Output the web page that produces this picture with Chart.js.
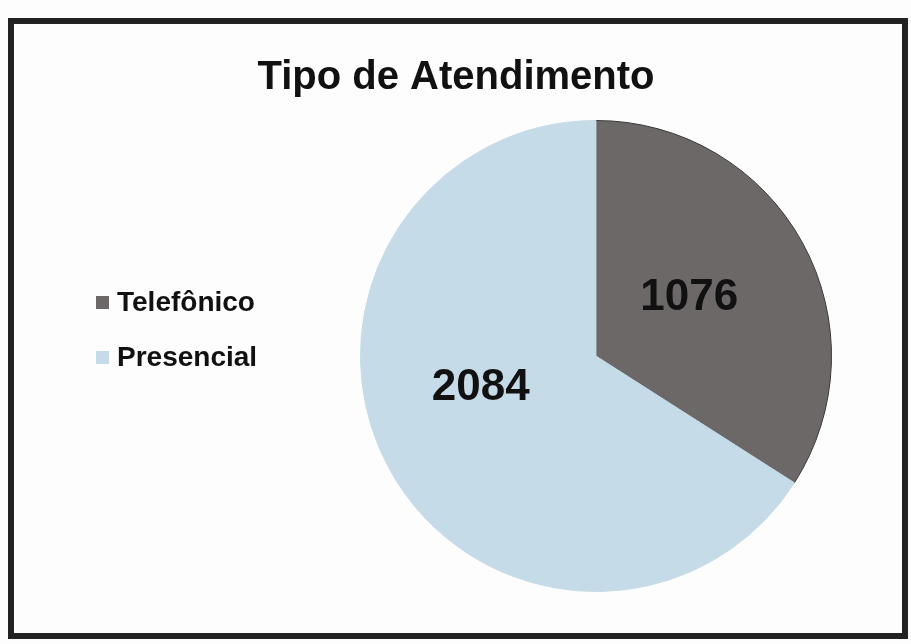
<!DOCTYPE html>
<html>
<head>
<meta charset="utf-8">
<script src="https://cdn.jsdelivr.net/npm/chart.js@4.4.1/dist/chart.umd.min.js"></script>
<style>
  html, body { margin: 0; padding: 0; background: #fbfbfb; }
  #wrap { width: 911px; height: 644px; position: relative; }
</style>
</head>
<body>
<div id="wrap"><canvas id="chart1"></canvas></div>
<script>
// data
var chartTitle = 'Tipo de Atendimento';
var categories = ['Telefônico', 'Presencial'];
var atendimentos = [1076, 2084];
var sliceColors = ['#6c6868', '#c6dbe8'];
var sliceBorders = ['#3c3a3a', '#c6dbe8'];

// frame, white background and the title (centred on the whole frame)
var framePlugin = {
    id: 'frame',
    beforeDraw: function (chart) {
        var c = chart.ctx;
        c.save();
        c.fillStyle = '#fdfdfd';
        c.fillRect(0, 0, chart.width, chart.height);
        c.strokeStyle = '#222';
        c.lineWidth = 6;
        c.strokeRect(11, 21, 894, 615);
        c.font = 'bold 40px "Liberation Sans", Arial, sans-serif';
        c.fillStyle = '#111';
        c.textAlign = 'center';
        c.textBaseline = 'middle';
        c.fillText(chartTitle, 456, 78);
        c.restore();
    }
};

// legend on the left, drawn by hand to get the spacing of the original
var sideLegend = {
    id: 'sideLegend',
    afterDraw: function (chart) {
        var c = chart.ctx;
        var ds = chart.data.datasets[0];
        c.save();
        c.font = 'bold 28px "Liberation Sans", Arial, sans-serif';
        c.textBaseline = 'middle';
        chart.data.labels.forEach(function (lab, i) {
            var y = 302 + i * 55;
            c.fillStyle = ds.backgroundColor[i];
            c.fillRect(96, y - 6, 13, 13);
            c.fillStyle = '#111';
            c.fillText(lab, 117, y + 1);
        });
        c.restore();
    }
};

// value labels inside the slices
var valueLabels = {
    id: 'valueLabels',
    afterDatasetsDraw: function (chart) {
        var c = chart.ctx;
        var meta = chart.getDatasetMeta(0);
        var shift = [[-10, -2], [-12, -25]];
        c.save();
        c.font = 'bold 44px "Liberation Sans", Arial, sans-serif';
        c.fillStyle = '#111';
        c.textAlign = 'center';
        c.textBaseline = 'middle';
        meta.data.forEach(function (arc, i) {
            var p = arc.tooltipPosition();
            c.fillText(chart.data.datasets[0].data[i], p.x + shift[i][0], p.y + shift[i][1]);
        });
        c.restore();
    }
};

var ctx = document.getElementById('chart1').getContext('2d');
var myChart = new Chart(ctx, {
    type: 'pie',
    data: {
        labels: categories,
        datasets: [{
            data: atendimentos,
            backgroundColor: sliceColors,
            borderColor: sliceBorders,
            borderWidth: 1
        }]
    },
    options: {
        responsive: true,
        maintainAspectRatio: false,
        animation: false,
        layout: {
            padding: { left: 360, right: 79, top: 120, bottom: 52 }
        },
        plugins: {
            legend: { display: false },
            tooltip: { enabled: false },
            title: { display: false }
        }
    },
    plugins: [framePlugin, sideLegend, valueLabels]
});
</script>
</body>
</html>
